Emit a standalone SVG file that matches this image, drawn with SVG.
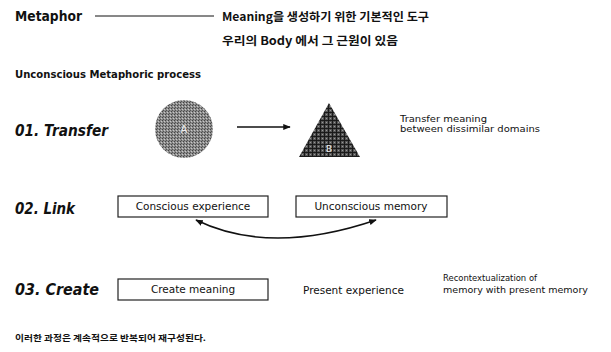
<svg xmlns="http://www.w3.org/2000/svg" width="611" height="352" viewBox="0 0 611 352">
<style>
.t{font-family:"DejaVu Sans","Noto Sans","Noto Sans CJK KR",sans-serif;fill:#111}
.ko{font-family:"Noto Sans CJK KR","Noto Sans",sans-serif;fill:#111}
.h{font-weight:bold;font-style:italic;font-size:16px}
.box{fill:#fff;stroke:#222;stroke-width:1.2}
.lbl{font-size:10.5px}
.sm{font-size:8.5px}
.con{fill:none;stroke:#111;stroke-width:1.5}
</style>
<defs>
<pattern id="stip" width="3" height="3" patternUnits="userSpaceOnUse">
<rect width="3" height="3" fill="#8c8c8c"/>
<rect width="1" height="1" fill="#444"/>
<rect x="2" y="1" width="1" height="1" fill="#c8c8c8"/>
<rect x="1" y="2" width="1" height="1" fill="#555"/>
</pattern>
<pattern id="hatch" width="4" height="4" patternUnits="userSpaceOnUse">
<rect width="4" height="4" fill="#555"/>
<rect width="4" height="1" fill="#1a1a1a"/>
<rect width="1" height="4" fill="#1a1a1a"/>
<rect x="2" y="2" width="1" height="1" fill="#999"/>
</pattern>
<marker id="ah" viewBox="0 0 10 10" refX="9" refY="5" markerWidth="5" markerHeight="5" orient="auto-start-reverse">
<path d="M0,1 L10,5 L0,9 z" fill="#111"/>
</marker>
</defs>

<g id="metaphor">
<text class="t" x="15" y="21" font-size="14" font-weight="bold" textLength="67" lengthAdjust="spacingAndGlyphs">Metaphor</text>
<line x1="95" y1="16" x2="214" y2="16" stroke="#111" stroke-width="1"/>
<text class="ko" x="222" y="21" font-size="11.5" font-weight="bold" textLength="207" lengthAdjust="spacingAndGlyphs">Meaning을 생성하기 위한 기본적인 도구</text>
<text class="ko" x="222" y="45" font-size="11.5" font-weight="bold" textLength="176" lengthAdjust="spacingAndGlyphs">우리의 Body 에서 그 근원이 있음</text>
</g>

<g id="process-title">
<text class="t" x="15" y="78" font-size="10.5" font-weight="bold" textLength="186" lengthAdjust="spacingAndGlyphs">Unconscious Metaphoric process</text>
</g>

<g id="step1-label"><text class="t h" x="15" y="136" textLength="93" lengthAdjust="spacingAndGlyphs">01. Transfer</text></g>
<g id="node-A">
<circle cx="184" cy="129" r="29" fill="url(#stip)"/>
<text class="t" x="184" y="133" font-size="10" style="fill:#eee" text-anchor="middle">A</text>
</g>
<g id="node-B">
<polygon points="329,103 299,157 360,157" fill="url(#hatch)"/>
<text class="t" x="329" y="152" font-size="9" style="fill:#eee" text-anchor="middle">B</text>
</g>
<g id="transfer-note">
<text class="t sm" x="400" y="122" textLength="87" lengthAdjust="spacingAndGlyphs">Transfer meaning</text>
<text class="t sm" x="400" y="132" textLength="140" lengthAdjust="spacingAndGlyphs">between dissimilar domains</text>
</g>

<g id="step2-label"><text class="t h" x="15" y="214" textLength="60" lengthAdjust="spacingAndGlyphs">02. Link</text></g>
<g id="node-conscious">
<rect class="box" x="118" y="196" width="150" height="21"/>
<text class="t lbl" x="193" y="210" text-anchor="middle">Conscious experience</text>
</g>
<g id="node-unconscious">
<rect class="box" x="296" y="196" width="151" height="21"/>
<text class="t lbl" x="371" y="210" text-anchor="middle">Unconscious memory</text>
</g>

<g id="step3-label"><text class="t h" x="15" y="295" textLength="84" lengthAdjust="spacingAndGlyphs">03. Create</text></g>
<g id="node-create">
<rect class="box" x="118" y="279" width="150" height="21"/>
<text class="t lbl" x="193" y="293" text-anchor="middle">Create meaning</text>
</g>
<g id="node-present">
<text class="t lbl" x="303" y="294">Present experience</text>
</g>
<g id="recontext-note">
<text class="t sm" x="443" y="281" textLength="94" lengthAdjust="spacingAndGlyphs">Recontextualization of</text>
<text class="t sm" x="443" y="293" textLength="145" lengthAdjust="spacingAndGlyphs">memory with present memory</text>
</g>

<g id="footer">
<text class="ko" x="15" y="341" font-size="8.5" font-weight="bold" textLength="191" lengthAdjust="spacingAndGlyphs">이러한 과정은 계속적으로 반복되어 재구성된다.</text>
</g>

<g id="connectors">
<line class="con" x1="237" y1="127" x2="290" y2="127" stroke-width="1.2" marker-end="url(#ah)"/>
<path class="con" d="M196,220 Q270,256 376,220" stroke-width="1.3" marker-start="url(#ah)" marker-end="url(#ah)"/>
</g>
</svg>
